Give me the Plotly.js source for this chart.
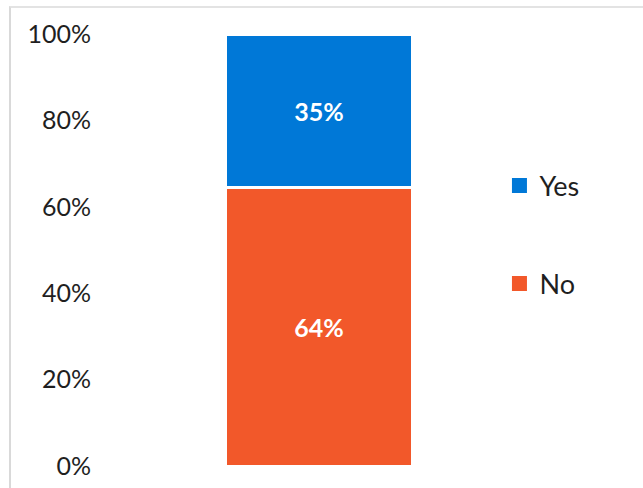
<!DOCTYPE html>
<html>
<head>
<meta charset="utf-8">
<script src="https://cdn.plot.ly/plotly-3.0.1.min.js"></script>
<style>
  html, body { margin: 0; padding: 0; background: #fff; overflow: hidden; }
  #chart { width: 643px; height: 488px; }
  #frame { position: absolute; left: 9px; top: 6px; width: 700px; height: 600px;
           border-left: 2px solid #d9d9d9; border-top: 2px solid #e3e3e3; pointer-events: none; }
</style>
</head>
<body>
<div id="chart"></div>
<div id="frame"></div>
<script>
const categories = ["Response"];
const noValues = [64.5];
const yesValues = [35.5];
const noLabels = ["64%"];
const yesLabels = ["35%"];
const yTicks = [0, 20, 40, 60, 80, 100];
const yTickLabels = ["0%", "20%", "40%", "60%", "80%", "100%"];

const FONT = "'Century Gothic', 'URW Gothic', Lato, sans-serif";
const BLUE = "#0078d7";
const ORANGE = "#f2582a";

const barCommon = {
  type: "bar", x: categories, width: 0.428, showlegend: false,
  textposition: "inside", insidetextanchor: "middle",
  textfont: { family: FONT, size: 25, color: "#ffffff", weight: "bold" },
  hoverinfo: "skip"
};

const data = [
  Object.assign({}, barCommon, { name: "No", y: noValues, text: noLabels, legendgroup: "no",
    marker: { color: ORANGE, line: { color: "#ffffff", width: 3 } } }),
  Object.assign({}, barCommon, { name: "Yes", y: yesValues, text: yesLabels, legendgroup: "yes",
    marker: { color: BLUE, line: { color: "#ffffff", width: 3 } } }),
  { type: "scatter", mode: "markers", x: [null], y: [null], name: "Yes", legendgroup: "yes",
    legendrank: 1, marker: { symbol: "square", size: 15, color: BLUE } },
  { type: "scatter", mode: "markers", x: [null], y: [null], name: "No", legendgroup: "no",
    legendrank: 2, marker: { symbol: "square", size: 15, color: ORANGE } }
];

const layout = {
  width: 643, height: 488,
  margin: { l: 100, r: 105, t: 34, b: 22 },
  paper_bgcolor: "rgba(0,0,0,0)", plot_bgcolor: "rgba(0,0,0,0)",
  barmode: "stack",
  font: { family: FONT, color: "#1f1f1f" },
  xaxis: { visible: false, range: [-0.5, 0.5], type: "category" },
  yaxis: { range: [0, 100], tickvals: yTicks, ticktext: yTickLabels, showgrid: false,
           zeroline: false, showline: false, ticks: "", ticklabelstandoff: 8,
           tickfont: { family: FONT, size: 25, color: "#1f1f1f" } },
  showlegend: true,
  legend: { x: 0.912, xanchor: "left", y: 0.535, yanchor: "middle",
            font: { family: FONT, size: 27, color: "#1f1f1f" },
            tracegroupgap: 60, traceorder: "grouped", bgcolor: "rgba(0,0,0,0)" }
};

Plotly.newPlot("chart", data, layout, { displayModeBar: false, staticPlot: true });
</script>
</body>
</html>
